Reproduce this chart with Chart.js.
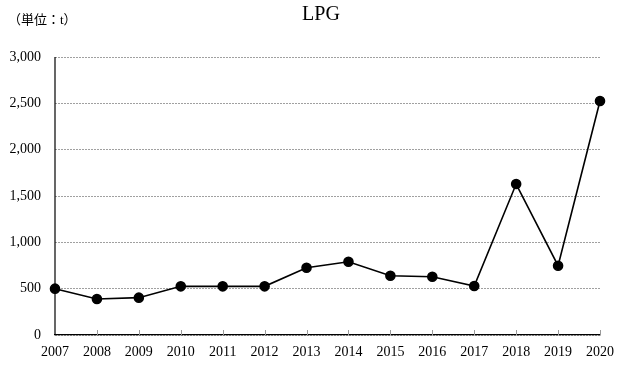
<!DOCTYPE html>
<html><head><meta charset="utf-8">
<script src="https://cdn.jsdelivr.net/npm/chart.js@4/dist/chart.umd.min.js"></script>
<style>html,body{margin:0;padding:0;background:#fff}#wrap{width:627px;height:367px}</style>
</head><body><div id="wrap"><canvas id="c" width="627" height="367"></canvas></div>
<script>
const years = ["2007","2008","2009","2010","2011","2012","2013","2014","2015","2016","2017","2018","2019","2020"];
const values = [500, 388, 403, 525, 525, 525, 726, 791, 640, 629, 529, 1629, 748, 2525];
const title = "LPG";
const unitLabel = "（単位：t）";
const yMax = 3000, yStep = 500;

const serif = "'Liberation Serif','Times New Roman','Noto Sans CJK JP',serif";
const axisPlugin = {
  id: 'axisLine',
  beforeDatasetsDraw(chart) {
    const ctx = chart.ctx, a = chart.chartArea;
    ctx.save();
    ctx.strokeStyle = '#000';
    ctx.lineWidth = 1.2;
    ctx.setLineDash([]);
    ctx.beginPath();
    ctx.moveTo(a.left, a.top);
    ctx.lineTo(a.left, a.bottom);
    ctx.stroke();
    ctx.restore();
  }
};
const textPlugin = {
  id: 'texts',
  afterDraw(chart) {
    const ctx = chart.ctx;
    ctx.save();
    ctx.fillStyle = '#000';
    ctx.textBaseline = 'middle';
    ctx.font = "20px " + serif;
    ctx.textAlign = 'center';
    ctx.fillText(title, 321, 15);
    ctx.font = "13px " + serif;
    ctx.textAlign = 'left';
    ctx.fillText(unitLabel, 8, 21);
    const xs = chart.scales.x, ys = chart.scales.y;
    ctx.strokeStyle = '#999';
    ctx.lineWidth = 1;
    xs.ticks.forEach((t, i) => {
      if (i === 0) return;
      const x = Math.round(xs.getPixelForTick(i)) + 0.5;
      ctx.beginPath();
      ctx.moveTo(x, ys.bottom - 5);
      ctx.lineTo(x, ys.bottom);
      ctx.stroke();
    });
    ctx.restore();
  }
};

new Chart(document.getElementById('c'), {
  type: 'line',
  data: { labels: years, datasets: [{
    data: values, borderColor: '#000', backgroundColor: '#000',
    borderWidth: 1.6, pointRadius: 4.5, pointHoverRadius: 4.5, tension: 0, fill: false
  }]},
  options: {
    responsive: false, animation: false, devicePixelRatio: 1,
    layout: { padding: { left: 0, right: 27, top: 57, bottom: 0 } },
    plugins: { legend: { display: false }, title: { display: false }, tooltip: { enabled: false } },
    scales: {
      x: {
        offset: false,
        grid: { display: false, drawTicks: false },
        border: { display: true, color: '#000', width: 1.2 },
        ticks: { color: '#000', font: { family: serif, size: 14 }, padding: 9, maxRotation: 0, autoSkip: false },
        afterFit(s) { s.height = 32; }
      },
      y: {
        min: 0, max: yMax,
        grid: { color: '#888', lineWidth: 0.8, drawTicks: false },
        border: { display: false, dash: [2, 1] },
        ticks: { stepSize: yStep, color: '#000', font: { family: serif, size: 14 }, padding: 14,
          callback: v => v.toLocaleString('en-US') },
        afterFit(s) { s.width = 55; }
      }
    }
  },
  plugins: [axisPlugin, textPlugin]
});
</script></body></html>
